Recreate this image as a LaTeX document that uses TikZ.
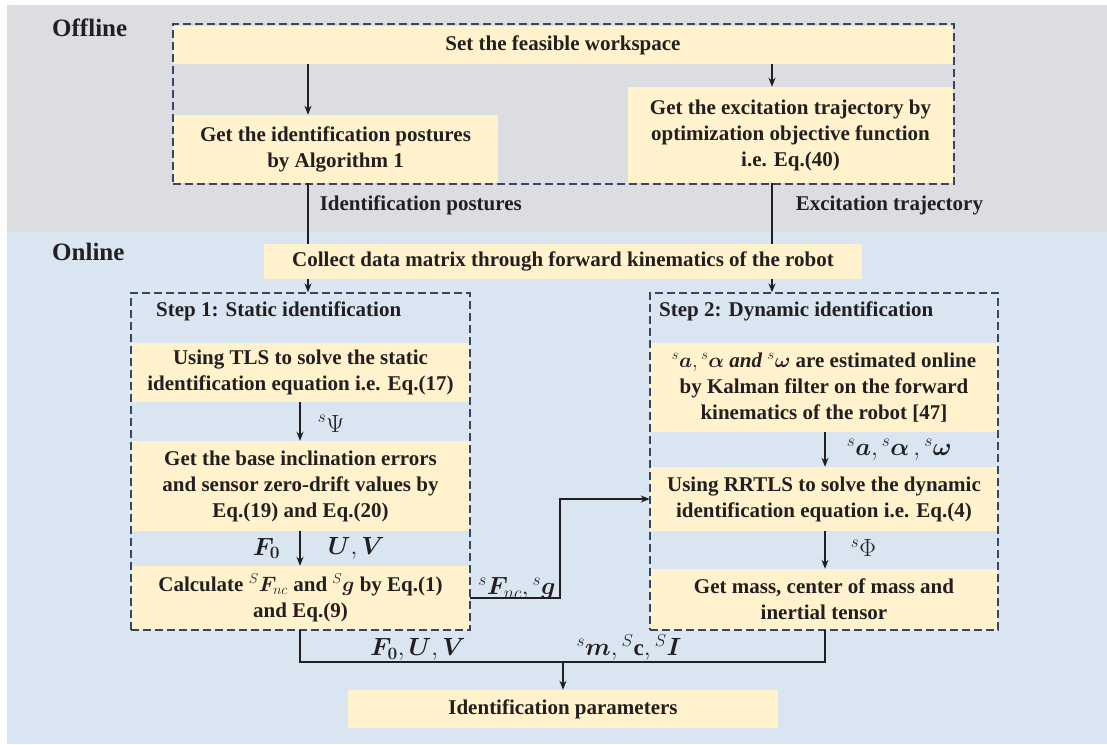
\documentclass[tikz,border=0pt]{standalone}
\usepackage{fontspec}
\setmainfont{Liberation Serif}
\usepackage{amsmath,bm}
\usetikzlibrary{arrows.meta,positioning}

\definecolor{bggray}{RGB}{220,221,224}
\definecolor{bgblue}{RGB}{218,229,242}
\definecolor{boxyellow}{RGB}{255,242,204}
\definecolor{dashblue}{RGB}{52,70,100}
\definecolor{txtdark}{RGB}{35,31,32}

\tikzset{
  procbox/.style={fill=boxyellow, align=center, inner sep=0pt, text=txtdark,
    font=\bfseries\fontsize{21}{26}\selectfont},
  stagebox/.style={draw=dashblue, dash pattern=on 8pt off 4pt, line width=1.3pt, inner sep=0pt},
  flow/.style={-{Stealth[length=9pt,width=7pt]}, line width=1.6pt, draw=txtdark},
  link/.style={line width=1.6pt, draw=txtdark},
  lbl/.style={font=\bfseries\fontsize{21}{26}\selectfont, text=txtdark, inner sep=1pt},
  mlbl/.style={font=\bfseries\fontsize{23}{27}\selectfont, text=txtdark, inner sep=1pt},
  phase/.style={font=\bfseries\fontsize{25}{30}\selectfont, text=txtdark, anchor=west, inner sep=0pt},
}

\begin{document}
\begin{tikzpicture}[x=1pt,y=-1pt]
  \useasboundingbox (0,0) rectangle (1107,744);
  % bands
  \fill[bggray] (7,5) rectangle (1107,232);
  \fill[bgblue] (7,232) rectangle (1107,744);
  \node[phase] (offl) at (52,28) {Offline};
  \node[phase] (onl) at (52,252) {Online};

  % columns
  \coordinate (colL) at (308,0);
  \coordinate (colR) at (772,0);
  \coordinate (colA) at (300,0);
  \coordinate (colB) at (825,0);

  % offline boxes
  \node[procbox, minimum width=780pt, minimum height=38pt] (setws) at (563,45) {Set the feasible workspace};
  \node[procbox, minimum width=325pt, minimum height=68pt] (post) at (335.5,149)
    {Get the identification postures\\by Algorithm 1};
  \node[procbox, minimum width=325pt, minimum height=96pt] (exc) at (790.5,135)
    {Get the excitation trajectory by\\optimization objective function\\i.e. Eq.(40)};
  \node[stagebox, minimum width=781pt, minimum height=160pt] (offbox) at (563.5,104) {};

  % online boxes
  \node[procbox, minimum width=598pt, minimum height=35pt] (collect) at (563,261.5)
    {Collect data matrix through forward kinematics of the robot};

  \node[procbox, minimum width=339pt, minimum height=59pt] (tls) at (300.5,372.5)
    {Using TLS to solve the static\\identification equation i.e. Eq.(17)};
  \node[procbox, minimum width=339pt, minimum height=90pt] (base) at (300.5,486)
    {Get the base inclination errors\\and sensor zero-drift values by\\Eq.(19) and Eq.(20)};
  \node[procbox, minimum width=339pt, minimum height=64pt] (calc) at (300.5,598)
    {Calculate ${}^{S}\bm{F}_{nc}$ and ${}^{S}\bm{g}$ by Eq.(1)\\and Eq.(9)};

  \node[procbox, minimum width=348pt, minimum height=89pt] (kal) at (824,387.5)
    {${}^{s}\bm{a},{}^{s}\bm{\alpha}$ \textit{and} ${}^{s}\bm{\omega}$ are estimated online\\by Kalman filter on the forward\\kinematics of the robot [47]};
  \node[procbox, minimum width=348pt, minimum height=64pt] (rrtls) at (824,499)
    {Using RRTLS to solve the dynamic\\identification equation i.e. Eq.(4)};
  \node[procbox, minimum width=348pt, minimum height=61pt] (mass) at (824,599.5)
    {Get mass, center of mass and\\inertial tensor};

  \node[procbox, minimum width=430pt, minimum height=38pt] (param) at (563,709)
    {Identification parameters};

  \node[stagebox, minimum width=339pt, minimum height=337pt] (step1) at (300.5,461.5) {};
  \node[stagebox, minimum width=348pt, minimum height=337pt] (step2) at (824,461.5) {};
  \node[lbl, anchor=west] (s1title) at (155,311) {Step 1: Static identification};
  \node[lbl, anchor=west] (s2title) at (658,311) {Step 2: Dynamic identification};

  % offline connectors
  \draw[flow] (setws.south -| colL) -- (post.north -| colL);
  \draw[flow] (setws.south -| colR) -- (exc.north -| colR);
  \draw[link] (post.south -| colL) -- (collect.north -| colL)
    node[lbl, pos=0.36, right=10pt] {Identification postures};
  \draw[link] (exc.south -| colR) -- (collect.north -| colR)
    node[lbl, pos=0.36, right=22pt] {Excitation trajectory};
  \draw[flow] (collect.south -| colL) -- (step1.north -| colL);
  \draw[flow] (collect.south -| colR) -- (step2.north -| colR);

  % step 1
  \draw[flow] (tls.south -| colA) -- (base.north -| colA)
    node[mlbl, midway, right=16pt, yshift=-2pt] {${}^{s}\Psi$};
  \draw[flow] (base.south -| colA) -- (calc.north -| colA)
    node[mlbl, midway, left=18pt] {$\bm{F_0}$}
    node[mlbl, midway, right=26pt] {$\bm{U},\bm{V}$};

  % step 2
  \draw[flow] (kal.south -| colB) -- (rrtls.north -| colB)
    node[mlbl, midway, right=20pt, font=\fontsize{25}{28}\selectfont] {${}^{s}\bm{a},{}^{s}\bm{\alpha}\,,{}^{s}\bm{\omega}$};
  \draw[flow] (rrtls.south -| colB) -- (mass.north -| colB)
    node[mlbl, midway, right=24pt, yshift=2pt] {${}^{s}\Phi$};

  % cross link
  \coordinate (jog) at (560,499);
  \draw[flow] (calc.east) -| (jog) -- (rrtls.west);
  \node[mlbl, anchor=south] (fnclbl) at (517,601) {${}^{s}\bm{F}_{nc},{}^{s}\bm{g}$};

  % merge to parameters
  \coordinate (mrgL) at (300,662);
  \coordinate (mrgR) at (825,662);
  \coordinate (mrgM) at (563,662);
  \draw[link] (calc.south -| mrgL) -- (mrgL) -- (mrgR) -- (mass.south -| mrgR);
  \draw[flow] (mrgM) -- (param.north);
  \node[mlbl, anchor=south] (fuvlbl) at (418,662) {$\bm{F_0},\bm{U},\bm{V}$};
  \node[mlbl, anchor=south] (mcilbl) at (629,662) {${}^{s}\bm{m},{}^{S}\mathbf{c},{}^{S}\bm{I}$};
\end{tikzpicture}
\end{document}
